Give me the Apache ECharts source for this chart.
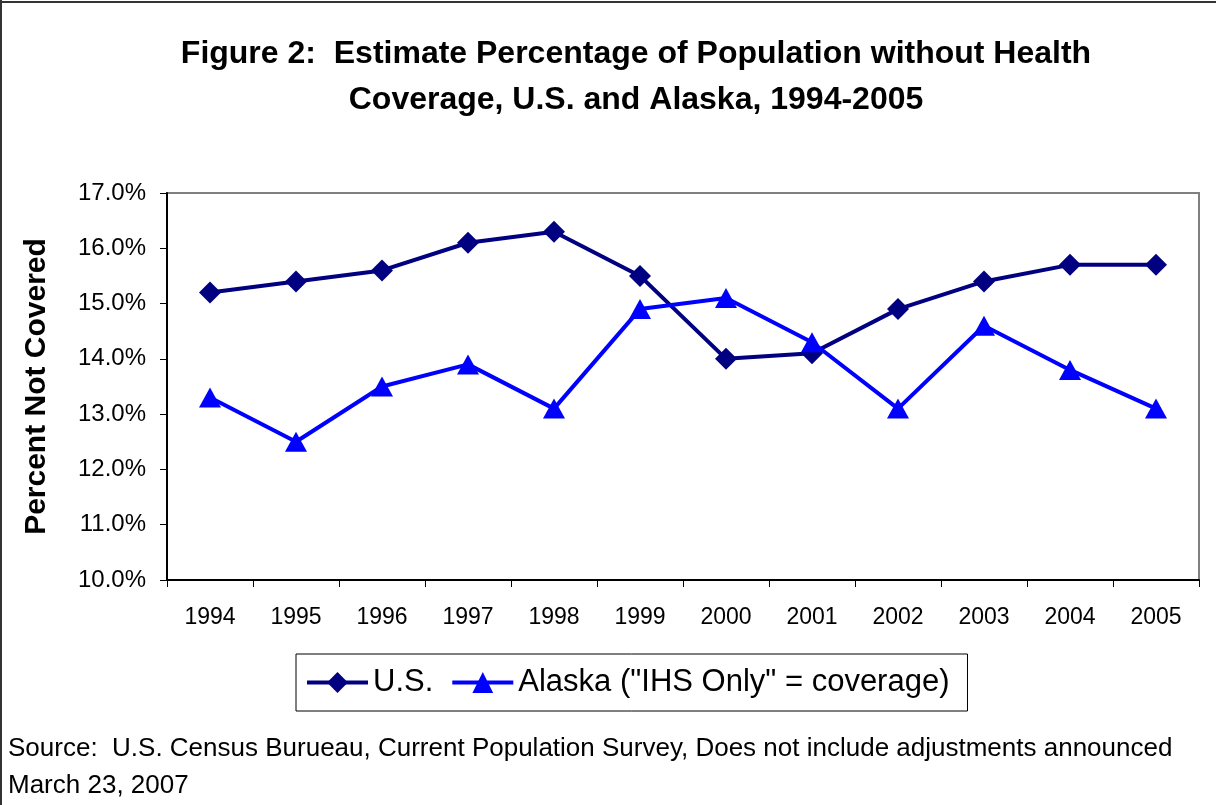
<!DOCTYPE html>
<html><head><meta charset="utf-8">
<script src="https://cdn.jsdelivr.net/npm/echarts@6/dist/echarts.min.js"></script>
<style>html,body{margin:0;padding:0;background:#fff}#c{width:1216px;height:805px}</style>
</head><body><div id="c"></div>
<script>
const years = ['1994','1995','1996','1997','1998','1999','2000','2001','2002','2003','2004','2005'];
const usValues = [15.2,15.4,15.6,16.1,16.3,15.5,14.0,14.1,14.9,15.4,15.7,15.7];
const alaskaValues = [13.3,12.5,13.5,13.9,13.1,14.9,15.1,14.3,13.1,14.6,13.8,13.1];
const yTicks = [10,11,12,13,14,15,16,17];

const font = 'Liberation Sans, Arial, sans-serif';
const chart = echarts.init(document.getElementById('c'));
chart.setOption({
  animation: false,
  backgroundColor: '#fff',
  title: {
    text: 'Figure 2:  Estimate Percentage of Population without Health\nCoverage, U.S. and Alaska, 1994-2005',
    left: 631, top: 26, textAlign: 'center',
    textStyle: {fontFamily: font, fontSize: 32, fontWeight: 'bold', color: '#000', lineHeight: 46}
  },
  legend: {
    left: 296, top: 654,
    borderColor: '#000', borderWidth: 1,
    padding: [13, 18, 13, 9],
    itemWidth: 61, itemHeight: 26, itemGap: 17,
    lineStyle: {width: 4},
    textStyle: {fontFamily: font, fontSize: 31, color: '#000'},
    data: ['U.S.', 'Alaska ("IHS Only" = coverage)']
  },
  grid: {left: 167, right: 17, top: 193, bottom: 225, show: true, borderColor: '#808080', borderWidth: 2, backgroundColor: 'transparent'},
  xAxis: {
    type: 'category', data: years, boundaryGap: true,
    axisLine: {lineStyle: {color: '#000', width: 2}},
    axisTick: {show: true, length: 7, alignWithLabel: false, lineStyle: {color: '#000'}},
    axisLabel: {fontFamily: font, fontSize: 23, color: '#000', margin: 26}
  },
  yAxis: {
    type: 'value', min: yTicks[0], max: yTicks[yTicks.length-1], interval: 1,
    name: 'Percent Not Covered', nameLocation: 'middle', nameGap: 115,
    nameTextStyle: {fontFamily: font, fontSize: 30, fontWeight: 'bold', color: '#000'},
    axisLine: {show: true, lineStyle: {color: '#000', width: 2}},
    axisTick: {show: true, length: 7, lineStyle: {color: '#000'}},
    splitLine: {show: false},
    axisLabel: {fontFamily: font, fontSize: 24, color: '#000', margin: 21, formatter: v => v.toFixed(1) + '%'}
  },
  series: [
    {name: 'U.S.', type: 'line', data: usValues, symbol: 'diamond', symbolSize: [22, 22],
     lineStyle: {color: '#000080', width: 4}, itemStyle: {color: '#000080'}},
    {name: 'Alaska ("IHS Only" = coverage)', type: 'line', data: alaskaValues, symbol: 'triangle', symbolSize: [22, 20],
     lineStyle: {color: '#0000FF', width: 4}, itemStyle: {color: '#0000FF'}}
  ],
  graphic: [
    {type: 'line', shape: {x1: 0, y1: 2, x2: 1216, y2: 2}, style: {stroke: '#333', lineWidth: 2}},
    {type: 'line', shape: {x1: 1, y1: 0, x2: 1, y2: 805}, style: {stroke: '#333', lineWidth: 2}},
    {type: 'text', left: 8, top: 730, style: {text: 'Source:  U.S. Census Burueau, Current Population Survey, Does not include adjustments announced\nMarch 23, 2007', font: '26px ' + font, fill: '#000', lineHeight: 37}}
  ]
});
</script></body></html>
